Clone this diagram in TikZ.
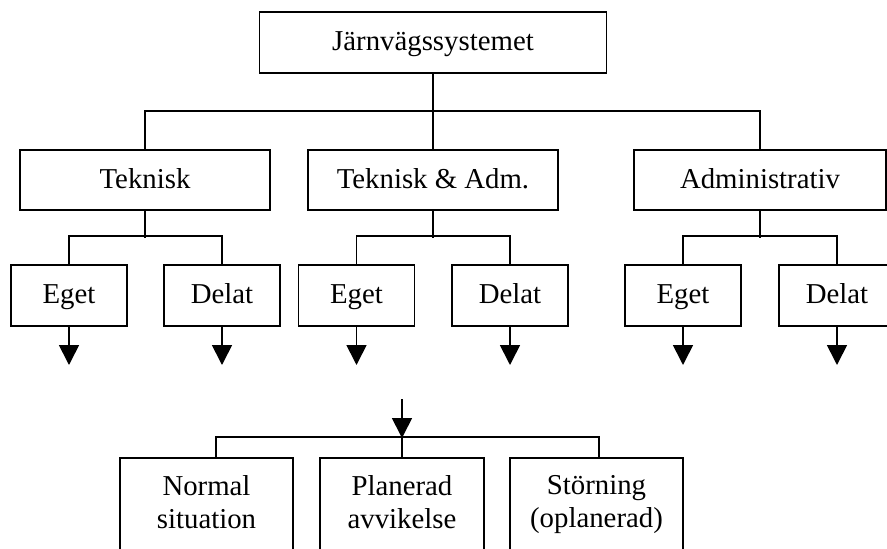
\documentclass[tikz,border=0pt]{standalone}
\usepackage{fontspec}
\setmainfont{Liberation Serif}
\usetikzlibrary{arrows.meta}
\begin{document}
\begin{tikzpicture}[x=1pt,y=-1pt,line width=1.7pt,
  box/.style={draw,rectangle,inner sep=0pt,font=\fontsize{28.8}{33}\selectfont,text height=20pt,text depth=4pt},
  emptybox/.style={draw,rectangle,inner sep=0pt},
  mtxt/.style={inner sep=0pt,align=center,font=\fontsize{28.8}{33}\selectfont},
  arr/.style={-{Triangle[width=20pt,length=20pt]}}]
\useasboundingbox (0,0) rectangle (887,549);
\clip (0,0) rectangle (887,549);
% top
\node[box,minimum width=347pt,minimum height=61pt] (top) at (433,42.5) {Järnvägssystemet};
% middle
\node[box,minimum width=250pt,minimum height=60pt] (tek) at (145,180) {Teknisk};
\node[box,minimum width=250pt,minimum height=60pt] (tad) at (433,180) {Teknisk \& Adm.};
\node[box,minimum width=252pt,minimum height=60pt] (adm) at (760,180) {Administrativ};
% leaves
\node[box,minimum width=116pt,minimum height=61pt] (e1) at (69,295.5) {Eget};
\node[box,minimum width=116pt,minimum height=61pt] (d1) at (222,295.5) {Delat};
\node[box,minimum width=116pt,minimum height=61pt] (e2) at (356.5,295.5) {Eget};
\node[box,minimum width=116pt,minimum height=61pt] (d2) at (510,295.5) {Delat};
\node[box,minimum width=116pt,minimum height=61pt] (e3) at (683,295.5) {Eget};
\node[box,minimum width=116pt,minimum height=61pt] (d3) at (837,295.5) {Delat};
% connectors top
\draw (top.south) -- (tad.north);
\draw (tek.north) -- ++(0,-38) -| (adm.north);
% leaf buses
\draw (tek.south) -- ++(0,27);
\draw (e1.north) -- ++(0,-28) -| (d1.north);
\draw (tad.south) -- ++(0,27);
\draw (e2.north) -- ++(0,-28) -| (d2.north);
\draw (adm.south) -- ++(0,27);
\draw (e3.north) -- ++(0,-28) -| (d3.north);
% leaf arrows
\coordinate (ae1) at (69,365);
\coordinate (ad1) at (222,365);
\coordinate (ae2) at (356.5,365);
\coordinate (ad2) at (510,365);
\coordinate (ae3) at (683,365);
\coordinate (ad3) at (837,365);
\draw[arr] (e1.south) -- (ae1);
\draw[arr] (d1.south) -- (ad1);
\draw[arr] (e2.south) -- (ae2);
\draw[arr] (d2.south) -- (ad2);
\draw[arr] (e3.south) -- (ae3);
\draw[arr] (d3.south) -- (ad3);
% bottom
\node[emptybox,minimum width=173pt,minimum height=112pt] (n1) at (206.5,514) {};
\node[emptybox,minimum width=164pt,minimum height=112pt] (n2) at (402,514) {};
\node[emptybox,minimum width=173pt,minimum height=112pt] (n3) at (596.5,514) {};
\node[mtxt] (n1t) at (206.5,504.5) {\rule{0pt}{20pt}Normal\\situation\rule[-6pt]{0pt}{6pt}};
\node[mtxt] (n2t) at (402,504.5) {\rule{0pt}{20pt}Planerad\\avvikelse\rule[-6pt]{0pt}{6pt}};
\node[mtxt] (n3t) at (596.5,504.5) {\rule{0pt}{20pt}Störning\\(oplanerad)\rule[-6pt]{0pt}{6pt}};
\coordinate (in) at (402,399);
\coordinate (bus) at (402,438);
\draw[arr] (in) -- (bus);
\draw ([xshift=9.5pt]n1.north) -- ++(0,-20) -| ([xshift=2.5pt]n3.north);
\draw (bus) -- (n2.north);
\end{tikzpicture}
\end{document}
